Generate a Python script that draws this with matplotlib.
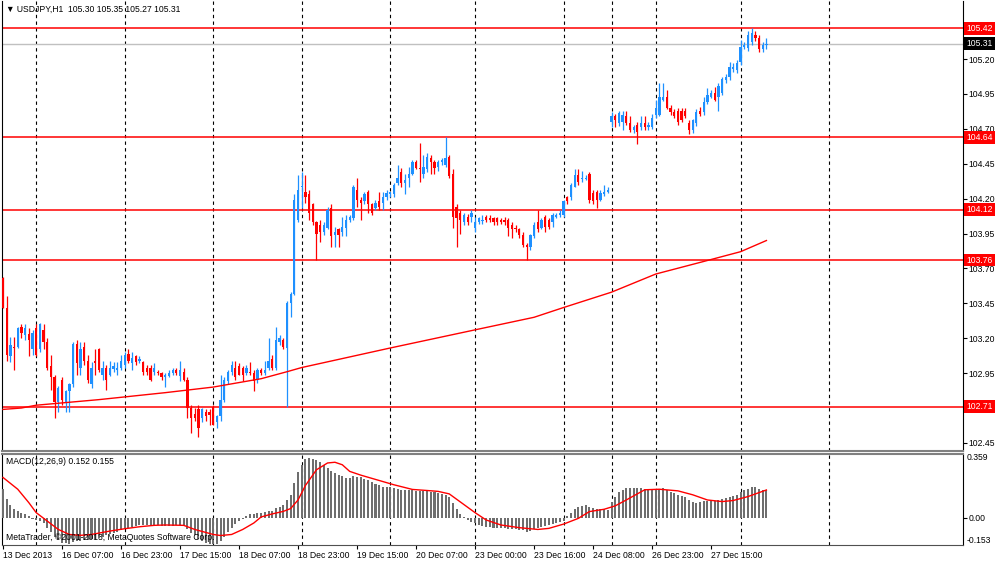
import numpy as np
import matplotlib
matplotlib.use('Agg')
from matplotlib import pyplot as plt
from matplotlib.transforms import blended_transform_factory

plt.rcParams['font.family'] = ['Liberation Sans', 'DejaVu Sans']
plt.rcParams['font.size'] = 6.2

# USDJPY H1 bars (bar index 0 = 13 Dec 2013)
opens = [
    103.63, 103.42, 103.07, 103.14, 103.14, 103.28, 103.22, 103.23, 103.12, 103.27,
    103.12, 103.26, 103.17, 103.00, 102.92, 102.74, 102.90, 102.74, 102.82, 102.87,
    103.16, 102.99, 103.14, 103.04, 102.87, 103.04, 103.12, 102.94, 102.99, 102.94,
    102.98, 102.97, 102.99, 103.01, 103.09, 103.02, 103.07, 103.04, 103.03, 102.99,
    102.99, 102.96, 102.96, 102.95, 102.92, 102.93, 102.95, 102.97, 102.93, 102.96,
    102.90, 102.70, 102.66, 102.69, 102.63, 102.67, 102.67, 102.71, 102.60, 102.64,
    102.76, 102.89, 102.96, 102.99, 103.00, 102.99, 102.95, 102.96, 102.95, 102.90,
    102.97, 102.95, 102.99, 103.05, 102.99, 103.17, 103.19, 103.13, 103.45, 103.52,
    104.05, 104.28, 104.25, 104.23, 104.16, 104.03, 104.01, 103.96, 103.99, 104.13,
    103.94, 103.98, 103.96, 103.99, 104.05, 104.06, 104.26, 104.19, 104.18, 104.25,
    104.16, 104.13, 104.18, 104.17, 104.21, 104.23, 104.23, 104.31, 104.39, 104.31,
    104.35, 104.38, 104.46, 104.42, 104.38, 104.41, 104.49, 104.46, 104.43, 104.46,
    104.44, 104.50, 104.38, 104.14, 104.10, 104.03, 104.07, 104.07, 103.99, 104.03,
    104.04, 104.07, 104.06, 104.06, 104.06, 104.05, 104.05, 104.05, 104.01, 103.99,
    103.98, 103.94, 103.87, 103.85, 103.93, 104.03, 103.99, 104.07, 104.05, 104.03,
    104.07, 104.08, 104.08, 104.21, 104.21, 104.28, 104.37, 104.34, 104.34, 104.38,
    104.24, 104.25, 104.19, 104.23, 104.25, 104.75, 104.79, 104.74, 104.75, 104.79,
    104.74, 104.69, 104.73, 104.71, 104.74, 104.71, 104.71, 104.80, 104.80, 104.91,
    104.93, 104.85, 104.82, 104.83, 104.83, 104.83, 104.74, 104.69, 104.74, 104.83,
    104.82, 104.89, 104.93, 104.96, 104.93, 104.96, 105.05, 105.07, 105.13, 105.12,
    105.18, 105.29, 105.28, 105.32, 105.37, 105.35, 105.27, 105.30,
]
highs = [
    103.64, 103.50, 103.21, 103.21, 103.28, 103.30, 103.30, 103.27, 103.26, 103.30,
    103.31, 103.30, 103.20, 103.08, 102.94, 102.86, 102.92, 102.83, 102.88, 103.17,
    103.19, 103.17, 103.17, 103.08, 103.03, 103.12, 103.13, 103.04, 103.01, 103.04,
    103.03, 103.03, 103.08, 103.10, 103.12, 103.10, 103.08, 103.07, 103.04, 103.01,
    103.01, 103.02, 102.97, 102.96, 102.95, 102.97, 102.99, 102.99, 103.04, 102.99,
    102.92, 102.72, 102.70, 102.72, 102.70, 102.69, 102.69, 102.72, 102.65, 102.94,
    102.92, 102.97, 103.04, 103.04, 103.02, 103.00, 103.01, 103.03, 102.97, 102.99,
    102.99, 103.04, 103.20, 103.08, 103.28, 103.22, 103.20, 103.47, 103.53, 104.23,
    104.37, 104.39, 104.37, 104.26, 104.17, 104.04, 104.05, 104.03, 104.14, 104.16,
    104.00, 103.99, 104.07, 104.08, 104.08, 104.30, 104.35, 104.21, 104.25, 104.26,
    104.17, 104.19, 104.25, 104.25, 104.26, 104.25, 104.31, 104.44, 104.42, 104.38,
    104.43, 104.48, 104.48, 104.60, 104.51, 104.53, 104.51, 104.48, 104.48, 104.49,
    104.64, 104.51, 104.41, 104.16, 104.12, 104.10, 104.09, 104.12, 104.07, 104.07,
    104.08, 104.08, 104.08, 104.07, 104.07, 104.06, 104.07, 104.06, 104.03, 104.01,
    103.99, 103.96, 103.88, 103.95, 104.03, 104.12, 104.06, 104.08, 104.06, 104.10,
    104.10, 104.12, 104.19, 104.22, 104.31, 104.41, 104.41, 104.40, 104.37, 104.39,
    104.26, 104.26, 104.26, 104.30, 104.28, 104.82, 104.81, 104.83, 104.83, 104.83,
    104.79, 104.73, 104.75, 104.79, 104.79, 104.75, 104.81, 104.91, 105.03, 105.03,
    104.98, 104.87, 104.84, 104.85, 104.85, 104.85, 104.76, 104.77, 104.84, 104.86,
    104.93, 104.99, 104.98, 105.00, 105.03, 105.07, 105.09, 105.18, 105.17, 105.19,
    105.34, 105.32, 105.40, 105.42, 105.40, 105.37, 105.32, 105.35,
]
lows = [
    103.42, 103.04, 103.03, 102.97, 103.13, 103.20, 103.19, 103.07, 103.08, 103.07,
    103.10, 103.12, 102.97, 102.83, 102.63, 102.67, 102.72, 102.67, 102.67, 102.85,
    102.94, 102.94, 103.01, 102.88, 102.84, 102.94, 102.96, 102.90, 102.83, 102.93,
    102.96, 102.94, 102.97, 102.99, 103.02, 102.97, 103.01, 103.02, 102.94, 102.94,
    102.89, 102.94, 102.94, 102.90, 102.85, 102.92, 102.94, 102.94, 102.89, 102.89,
    102.63, 102.52, 102.61, 102.49, 102.60, 102.61, 102.58, 102.58, 102.56, 102.61,
    102.74, 102.87, 102.94, 102.90, 102.94, 102.89, 102.94, 102.94, 102.82, 102.88,
    102.94, 102.94, 102.97, 102.97, 102.97, 103.15, 103.12, 102.71, 103.35, 103.51,
    104.03, 104.13, 104.17, 104.05, 104.01, 103.76, 103.89, 103.94, 103.98, 103.85,
    103.85, 103.85, 103.93, 103.93, 104.03, 104.05, 104.14, 104.05, 104.16, 104.10,
    104.08, 104.12, 104.12, 104.12, 104.19, 104.21, 104.21, 104.30, 104.28, 104.23,
    104.28, 104.37, 104.41, 104.32, 104.35, 104.39, 104.38, 104.38, 104.40, 104.44,
    104.43, 104.35, 103.99, 103.85, 103.95, 104.01, 104.01, 104.03, 103.96, 104.02,
    104.02, 104.03, 104.03, 104.01, 104.01, 104.02, 104.01, 103.93, 103.92, 103.96,
    103.92, 103.85, 103.76, 103.83, 103.92, 103.96, 103.98, 103.96, 103.98, 104.00,
    104.06, 104.07, 104.07, 104.16, 104.19, 104.28, 104.30, 104.32, 104.33, 104.17,
    104.16, 104.13, 104.18, 104.22, 104.24, 104.71, 104.71, 104.72, 104.69, 104.73,
    104.68, 104.67, 104.59, 104.69, 104.69, 104.69, 104.70, 104.78, 104.79, 104.90,
    104.84, 104.80, 104.78, 104.73, 104.75, 104.78, 104.66, 104.67, 104.72, 104.79,
    104.80, 104.88, 104.92, 104.90, 104.83, 104.94, 105.03, 105.05, 105.11, 105.10,
    105.16, 105.27, 105.26, 105.30, 105.33, 105.25, 105.25, 105.27,
]
closes = [
    103.42, 103.08, 103.15, 103.13, 103.27, 103.24, 103.27, 103.19, 103.24, 103.08,
    103.30, 103.17, 102.99, 102.92, 102.74, 102.84, 102.76, 102.82, 102.87, 103.16,
    103.02, 103.12, 103.04, 102.90, 102.99, 103.02, 102.97, 102.99, 102.90, 102.99,
    103.00, 102.99, 103.04, 103.08, 103.04, 103.06, 103.03, 103.05, 102.96, 102.96,
    102.90, 102.99, 102.95, 102.92, 102.94, 102.95, 102.97, 102.95, 102.97, 102.90,
    102.70, 102.63, 102.63, 102.56, 102.69, 102.64, 102.65, 102.58, 102.64, 102.76,
    102.90, 102.96, 103.01, 102.92, 102.94, 102.94, 102.99, 102.95, 102.89, 102.97,
    102.95, 102.97, 103.04, 102.99, 103.19, 103.20, 103.14, 103.45, 103.52, 104.19,
    104.26, 104.29, 104.21, 104.10, 104.03, 103.95, 103.96, 104.01, 104.12, 103.93,
    103.96, 103.94, 104.00, 104.05, 104.07, 104.28, 104.19, 104.17, 104.23, 104.16,
    104.10, 104.17, 104.14, 104.21, 104.24, 104.25, 104.30, 104.35, 104.31, 104.33,
    104.38, 104.46, 104.42, 104.41, 104.43, 104.50, 104.46, 104.42, 104.46, 104.48,
    104.49, 104.36, 104.07, 104.06, 104.05, 104.08, 104.03, 104.10, 104.03, 104.06,
    104.05, 104.05, 104.05, 104.03, 104.03, 104.03, 104.03, 103.99, 103.98, 103.98,
    103.94, 103.87, 103.85, 103.94, 104.01, 103.98, 104.05, 104.00, 104.00, 104.08,
    104.08, 104.10, 104.18, 104.18, 104.30, 104.37, 104.32, 104.35, 104.35, 104.19,
    104.18, 104.19, 104.24, 104.25, 104.26, 104.79, 104.76, 104.81, 104.80, 104.74,
    104.69, 104.71, 104.68, 104.74, 104.71, 104.73, 104.78, 104.85, 104.93, 104.93,
    104.85, 104.82, 104.79, 104.75, 104.76, 104.79, 104.69, 104.76, 104.82, 104.81,
    104.89, 104.94, 104.96, 104.91, 105.01, 105.06, 105.07, 105.14, 105.14, 105.17,
    105.29, 105.30, 105.37, 105.39, 105.35, 105.27, 105.30, 105.31,
]

# moving average line (read at a few bars)
ma_idx = [0, 5, 9, 26, 44, 57, 70, 77, 81, 105, 128, 144, 152, 165, 177, 190, 200, 207]
ma_val = [102.69, 102.70, 102.72, 102.76, 102.81, 102.85, 102.91, 102.96, 102.99, 103.13,
          103.26, 103.35, 103.42, 103.53, 103.66, 103.75, 103.82, 103.90]

# MACD(12,26,9) main histogram, one value per bar
macd = [
    0.163, 0.107, 0.069, 0.051, 0.038, 0.028, 0.019, 0.009, -0.005, -0.013,
    -0.019, -0.028, -0.056, -0.081, -0.107, -0.126, -0.141, -0.144, -0.146, -0.137,
    -0.131, -0.128, -0.126, -0.126, -0.122, -0.118, -0.113, -0.107, -0.099, -0.094,
    -0.088, -0.081, -0.071, -0.062, -0.056, -0.051, -0.047, -0.043, -0.039, -0.039,
    -0.043, -0.043, -0.043, -0.045, -0.047, -0.047, -0.045, -0.043, -0.041, -0.043,
    -0.066, -0.084, -0.099, -0.118, -0.131, -0.141, -0.148, -0.150, -0.148, -0.131,
    -0.107, -0.081, -0.056, -0.038, -0.019, -0.006, 0.009, 0.019, 0.023, 0.025,
    0.028, 0.032, 0.036, 0.039, 0.053, 0.062, 0.071, 0.099, 0.128, 0.193,
    0.253, 0.296, 0.328, 0.336, 0.330, 0.321, 0.310, 0.296, 0.278, 0.263,
    0.250, 0.240, 0.231, 0.221, 0.221, 0.231, 0.227, 0.225, 0.216, 0.208,
    0.199, 0.189, 0.180, 0.174, 0.171, 0.169, 0.165, 0.159, 0.156, 0.152,
    0.152, 0.152, 0.150, 0.150, 0.148, 0.148, 0.146, 0.143, 0.137, 0.131,
    0.128, 0.118, 0.081, 0.047, 0.021, 0.006, -0.013, -0.023, -0.032, -0.041,
    -0.047, -0.051, -0.054, -0.056, -0.058, -0.060, -0.060, -0.062, -0.064, -0.066,
    -0.068, -0.069, -0.079, -0.073, -0.066, -0.060, -0.054, -0.047, -0.041, -0.036,
    -0.028, -0.023, -0.017, 0.009, 0.028, 0.047, 0.058, 0.066, 0.071, 0.062,
    0.056, 0.049, 0.049, 0.047, 0.043, 0.090, 0.118, 0.141, 0.156, 0.165,
    0.165, 0.165, 0.165, 0.165, 0.159, 0.156, 0.152, 0.159, 0.161, 0.165,
    0.156, 0.146, 0.137, 0.128, 0.122, 0.113, 0.099, 0.090, 0.084, 0.086,
    0.094, 0.096, 0.096, 0.096, 0.099, 0.103, 0.109, 0.118, 0.122, 0.128,
    0.146, 0.152, 0.159, 0.171, 0.171, 0.159, 0.152, 0.152,
]
# signal line (read at a few bars)
sig_idx = [0, 4, 7, 9, 12, 15, 18, 21, 24, 29, 33, 37, 41, 44, 49, 52, 57, 59, 62, 65,
           68, 70, 73, 76, 78, 80, 82, 85, 88, 90, 92, 94, 97, 101, 106, 111, 115, 118, 121, 124,
           128, 131, 135, 140, 145, 148, 152, 156, 159, 163, 166, 169, 174, 178, 183, 187, 191, 195, 198, 202,
           207]
sig_val = [0.225, 0.159, 0.084, 0.028, -0.019, -0.066, -0.094, -0.099, -0.094, -0.075,
           -0.062, -0.051, -0.043, -0.041, -0.043, -0.066, -0.094, -0.100, -0.094, -0.066,
           -0.030, 0.004, 0.021, 0.035, 0.051, 0.099, 0.180, 0.268, 0.306, 0.310,
           0.296, 0.259, 0.238, 0.214, 0.184, 0.158, 0.152, 0.147, 0.133, 0.088,
           0.028, -0.013, -0.041, -0.056, -0.066, -0.060, -0.036, -0.004, 0.034, 0.047,
           0.066, 0.099, 0.156, 0.159, 0.150, 0.128, 0.099, 0.090, 0.096, 0.118,
           0.155]

red_levels = [105.42, 104.64, 104.12, 103.76, 102.71]
bid = 105.31
day_lines = [9, 33, 57, 81, 105, 128, 152, 165, 177, 200, 224]
time_pos = [0, 16, 32, 48, 64, 80, 96, 112, 128, 144, 160, 176, 192]
time_labels = ['13 Dec 2013', '16 Dec 07:00', '16 Dec 23:00', '17 Dec 15:00', '18 Dec 07:00',
               '18 Dec 23:00', '19 Dec 15:00', '20 Dec 07:00', '23 Dec 00:00', '23 Dec 16:00',
               '24 Dec 08:00', '26 Dec 23:00', '27 Dec 15:00']
price_ticks = [105.45, 105.20, 104.95, 104.70, 104.45, 104.20, 103.95, 103.70,
               103.45, 103.20, 102.95, 102.45]

W, H = 1000, 562
def rect(x0, y0, x1, y1):
    return [x0 / W, 1 - y1 / H, (x1 - x0) / W, (y1 - y0) / H]

fig = plt.figure(figsize=(10, 5.62), dpi=100)
ax = fig.add_axes(rect(2, 1, 963, 451))
ax2 = fig.add_axes(rect(2, 453.5, 963, 545))

o = np.array(opens); h = np.array(highs); l = np.array(lows); c = np.array(closes)
idx = np.arange(len(c))
cols = np.where(c >= o, '#1E90FF', '#FF0000')

# grid first, then objects and candles
for g in day_lines:
    for a in (ax, ax2):
        a.axvline(g, color='black', lw=0.8, ls=(0, (3, 3)), zorder=1)
for lv in red_levels:
    ax.axhline(lv, color='#FF0000', lw=1.1, zorder=2)
ax.axhline(bid, color='#C0C0C0', lw=1, zorder=2)

ax.vlines(idx, l, h, colors=cols, lw=0.9, zorder=3)
ax.bar(idx, np.maximum(np.abs(c - o), 0.006), bottom=np.minimum(o, c),
       width=0.62, color=cols, linewidth=0, zorder=3)
ax.plot(ma_idx, ma_val, color='#FF0000', lw=1, zorder=4)

ax.set_xlim(-0.27, 260.3)
ax.set_ylim(102.392, 105.616)
ax.set_xticks([])
ax.yaxis.tick_right()
ax.set_yticks(price_ticks)
ax.set_yticklabels([f'{p:.2f}' for p in price_ticks])
ax.tick_params(axis='y', length=3, width=0.8, pad=1, labelsize=6.2)
ax.spines['top'].set_visible(False)
ax.spines['bottom'].set_color('#808080')
ax.spines['bottom'].set_linewidth(1.5)

tr = blended_transform_factory(ax.transAxes, ax.transData)
for lv in red_levels:
    ax.text(1.0035, lv, f'{lv:.2f}', transform=tr, ha='left', va='center', color='white',
            fontsize=6.2, clip_on=False, zorder=6,
            bbox=dict(boxstyle='square,pad=0.22', fc='#FF0000', ec='none'))
ax.text(1.0035, bid, f'{bid:.2f}', transform=tr, ha='left', va='center', color='white',
        fontsize=6.2, clip_on=False, zorder=6,
        bbox=dict(boxstyle='square,pad=0.22', fc='black', ec='none'))

# MACD window
ax2.bar(np.arange(len(macd)), macd, width=0.55, color='#6E6E6E', linewidth=0, zorder=3)
ax2.plot(sig_idx, sig_val, color='#FF0000', lw=1, zorder=4)
ax2.set_xlim(-0.27, 260.3)
ax2.set_ylim(-0.153, 0.359)
ax2.yaxis.tick_right()
ax2.set_yticks([0])
ax2.set_yticklabels(['0.00'])
ax2.tick_params(axis='y', length=3, width=0.8, pad=1, labelsize=6.2)
ax2.set_xticks(time_pos)
ax2.set_xticklabels(time_labels)
for t in ax2.get_xticklabels():
    t.set_ha('left')
ax2.tick_params(axis='x', length=3, width=0.8, pad=1.5, labelsize=6.2)
ax2.spines['top'].set_color('#808080')
ax2.spines['top'].set_linewidth(1.5)
ax2.spines['bottom'].set_color('#505050')
tr2 = blended_transform_factory(ax2.transAxes, ax2.transData)
ax2.text(1.004, 0.359, '0.359', transform=tr2, ha='left', va='top', fontsize=6.2, clip_on=False)
ax2.text(1.004, -0.153, '-0.153', transform=tr2, ha='left', va='bottom', fontsize=6.2, clip_on=False)

fig.text(6 / W, 1 - 9 / H, '\u25bc USDJPY,H1  105.30 105.35 105.27 105.31', va='center', fontsize=6.2)
fig.text(6 / W, 1 - 462 / H, 'MACD(12,26,9) 0.152 0.155', va='center', fontsize=6.2)
fig.text(6 / W, 1 - 538 / H, 'MetaTrader, \u00a92001-2013, MetaQuotes Software Corp.', va='center', fontsize=6.2)

fig.savefig('out.png', dpi=100, facecolor='white')
